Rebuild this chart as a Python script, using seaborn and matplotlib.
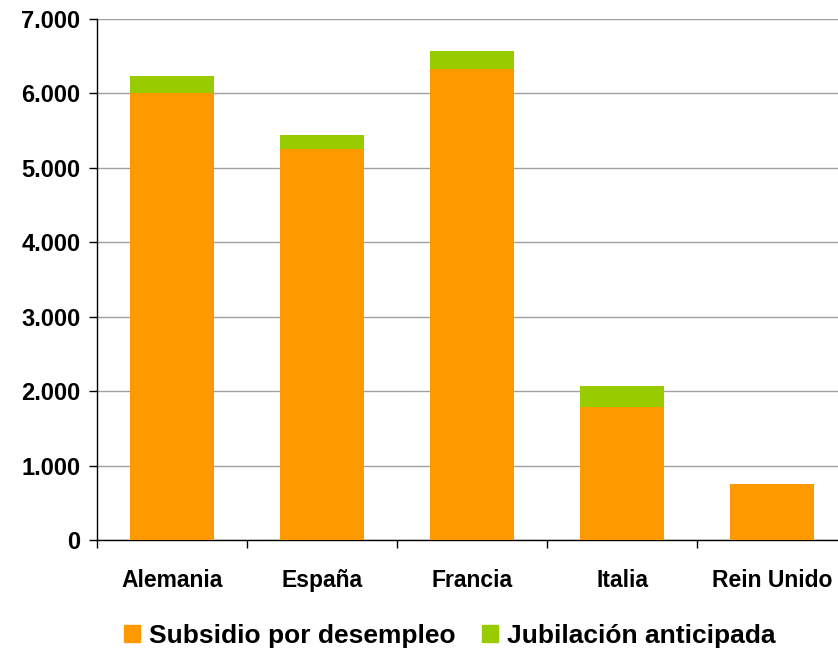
import matplotlib.pyplot as plt
import numpy as np
import pandas as pd
import seaborn as sns
from matplotlib.patches import Patch
from matplotlib.ticker import FuncFormatter

# Data
paises = ['Alemania', 'España', 'Francia', 'Italia', 'Rein Unido']
subsidio = [6000, 5250, 6325, 1785, 750]
jubilacion = [235, 190, 240, 285, 0]

naranja = '#FF9900'
verde = '#99CC00'

df = pd.DataFrame({'pais': paises, 'subsidio': subsidio,
                   'jubilacion': jubilacion})
df['total'] = df['subsidio'] + df['jubilacion']

sns.set_style('white')
plt.rcParams['font.family'] = ['Liberation Sans', 'DejaVu Sans']
plt.rcParams['font.weight'] = 'bold'
plt.rcParams['text.color'] = 'black'
plt.rcParams['xtick.color'] = 'black'
plt.rcParams['ytick.color'] = 'black'

fig = plt.figure(figsize=(8.38, 6.53), dpi=100)
ax = fig.add_axes([97 / 838, 113 / 653, 750 / 838, 521 / 653])

# Stacked bars: total (green) behind, unemployment subsidy (orange) in front
sns.barplot(data=df, x='pais', y='total', color=verde, saturation=1,
            width=0.56, linewidth=0, ax=ax, zorder=2)
sns.barplot(data=df, x='pais', y='subsidio', color=naranja, saturation=1,
            width=0.56, linewidth=0, ax=ax, zorder=3)

ax.set_xlim(-0.5, 4.5)
ax.set_ylim(0, 7000)
ax.set_yticks(np.arange(0, 7001, 1000))
ax.yaxis.set_major_formatter(
    FuncFormatter(lambda v, p: '{:,.0f}'.format(v).replace(',', '.')))
ax.yaxis.grid(True, color='#A0A0A0', linewidth=1, zorder=0)
ax.set_axisbelow(True)

ax.set_xticks(range(len(paises)))
ax.set_xticklabels(paises)
ax.set_xticks(np.arange(-0.5, 4.5, 1), minor=True)
ax.tick_params(axis='x', which='major', length=0, pad=21, labelsize=16.5,
               labelcolor='black')
ax.tick_params(axis='x', which='minor', length=6, width=1, color='black',
               direction='out', bottom=True)
ax.tick_params(axis='y', length=6, width=1, color='black', direction='out',
               left=True, labelsize=17, pad=6, labelcolor='black')

for s in ['top', 'right']:
    ax.spines[s].set_visible(False)
for s in ['left', 'bottom']:
    ax.spines[s].set_color('black')
    ax.spines[s].set_linewidth(1)

ax.set_xlabel('')
ax.set_ylabel('')

handles = [Patch(color=naranja, label='Subsidio por desempleo'),
           Patch(color=verde, label='Jubilación anticipada')]
fig.legend(handles=handles, loc='center', bbox_to_anchor=(450 / 838, 17 / 653),
           ncol=2, frameon=False, fontsize=19, handlelength=0.6,
           handleheight=0.6, handletextpad=0.35, columnspacing=1.0,
           labelcolor='black')

fig.savefig('out.png', dpi=100)
